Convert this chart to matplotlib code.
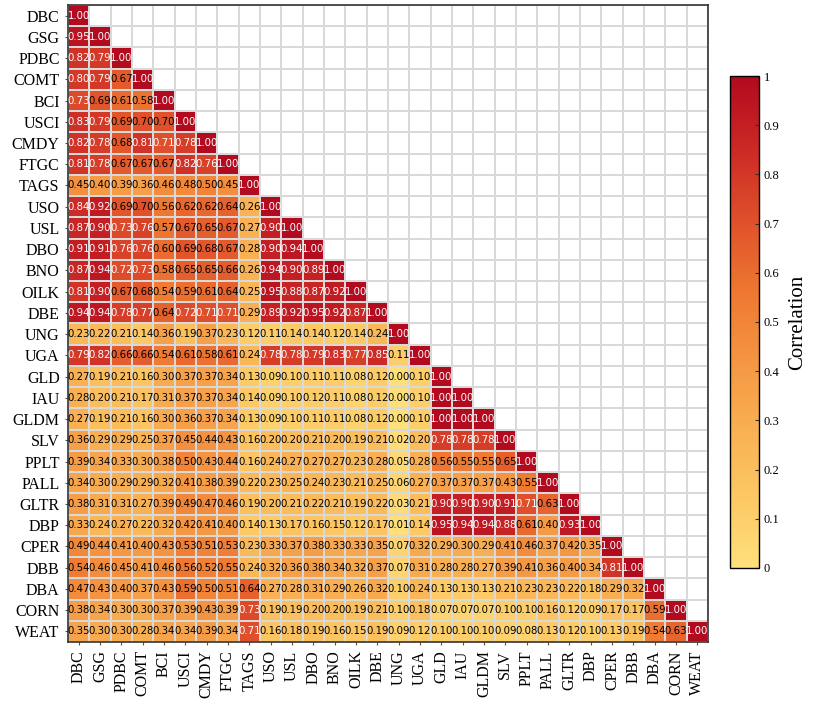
import numpy as np
import matplotlib
matplotlib.use("Agg")
import matplotlib.pyplot as plt
from matplotlib.colors import LinearSegmentedColormap

tickers = ["DBC", "GSG", "PDBC", "COMT", "BCI", "USCI", "CMDY", "FTGC", "TAGS", "USO",
           "USL", "DBO", "BNO", "OILK", "DBE", "UNG", "UGA", "GLD", "IAU", "GLDM",
           "SLV", "PPLT", "PALL", "GLTR", "DBP", "CPER", "DBB", "DBA", "CORN", "WEAT"]

rows = [
    [1.00],
    [0.95, 1.00],
    [0.82, 0.79, 1.00],
    [0.80, 0.79, 0.67, 1.00],
    [0.73, 0.69, 0.61, 0.58, 1.00],
    [0.83, 0.79, 0.69, 0.70, 0.70, 1.00],
    [0.82, 0.78, 0.68, 0.81, 0.71, 0.78, 1.00],
    [0.81, 0.78, 0.67, 0.67, 0.67, 0.82, 0.76, 1.00],
    [0.45, 0.40, 0.39, 0.36, 0.46, 0.48, 0.50, 0.45, 1.00],
    [0.84, 0.92, 0.69, 0.70, 0.56, 0.62, 0.62, 0.64, 0.26, 1.00],
    [0.87, 0.90, 0.73, 0.76, 0.57, 0.67, 0.65, 0.67, 0.27, 0.90, 1.00],
    [0.91, 0.91, 0.76, 0.76, 0.60, 0.69, 0.68, 0.67, 0.28, 0.90, 0.94, 1.00],
    [0.87, 0.94, 0.72, 0.73, 0.58, 0.65, 0.65, 0.66, 0.26, 0.94, 0.90, 0.89, 1.00],
    [0.81, 0.90, 0.67, 0.68, 0.54, 0.59, 0.61, 0.64, 0.25, 0.95, 0.88, 0.87, 0.92, 1.00],
    [0.94, 0.94, 0.78, 0.77, 0.64, 0.72, 0.71, 0.71, 0.29, 0.89, 0.92, 0.95, 0.92, 0.87, 1.00],
    [0.23, 0.22, 0.21, 0.14, 0.36, 0.19, 0.37, 0.23, 0.12, 0.11, 0.14, 0.14, 0.12, 0.14, 0.24, 1.00],
    [0.79, 0.82, 0.66, 0.66, 0.54, 0.61, 0.58, 0.61, 0.24, 0.78, 0.78, 0.79, 0.83, 0.77, 0.85, 0.11, 1.00],
    [0.27, 0.19, 0.21, 0.16, 0.30, 0.37, 0.37, 0.34, 0.13, 0.09, 0.10, 0.11, 0.11, 0.08, 0.12, 0.00, 0.10, 1.00],
    [0.28, 0.20, 0.21, 0.17, 0.31, 0.37, 0.37, 0.34, 0.14, 0.09, 0.10, 0.12, 0.11, 0.08, 0.12, 0.00, 0.10, 1.00, 1.00],
    [0.27, 0.19, 0.21, 0.16, 0.30, 0.36, 0.37, 0.34, 0.13, 0.09, 0.10, 0.11, 0.11, 0.08, 0.12, 0.00, 0.10, 1.00, 1.00, 1.00],
    [0.36, 0.29, 0.29, 0.25, 0.37, 0.45, 0.44, 0.43, 0.16, 0.20, 0.20, 0.21, 0.20, 0.19, 0.21, 0.02, 0.20, 0.78, 0.78, 0.78, 1.00],
    [0.39, 0.34, 0.33, 0.30, 0.38, 0.50, 0.43, 0.44, 0.16, 0.24, 0.27, 0.27, 0.27, 0.23, 0.28, 0.05, 0.28, 0.56, 0.55, 0.55, 0.65, 1.00],
    [0.34, 0.30, 0.29, 0.29, 0.32, 0.41, 0.38, 0.39, 0.22, 0.23, 0.25, 0.24, 0.23, 0.21, 0.25, 0.06, 0.27, 0.37, 0.37, 0.37, 0.43, 0.55, 1.00],
    [0.38, 0.31, 0.31, 0.27, 0.39, 0.49, 0.47, 0.46, 0.19, 0.20, 0.21, 0.22, 0.21, 0.19, 0.22, 0.03, 0.21, 0.90, 0.90, 0.90, 0.91, 0.71, 0.63, 1.00],
    [0.33, 0.24, 0.27, 0.22, 0.32, 0.42, 0.41, 0.40, 0.14, 0.13, 0.17, 0.16, 0.15, 0.12, 0.17, 0.01, 0.14, 0.95, 0.94, 0.94, 0.88, 0.61, 0.40, 0.93, 1.00],
    [0.49, 0.44, 0.41, 0.40, 0.43, 0.53, 0.51, 0.53, 0.23, 0.33, 0.37, 0.38, 0.33, 0.33, 0.35, 0.07, 0.32, 0.29, 0.30, 0.29, 0.41, 0.46, 0.37, 0.42, 0.35, 1.00],
    [0.54, 0.46, 0.45, 0.41, 0.46, 0.56, 0.52, 0.55, 0.24, 0.32, 0.36, 0.38, 0.34, 0.32, 0.37, 0.07, 0.31, 0.28, 0.28, 0.27, 0.39, 0.41, 0.36, 0.40, 0.34, 0.81, 1.00],
    [0.47, 0.43, 0.40, 0.37, 0.43, 0.59, 0.50, 0.51, 0.64, 0.27, 0.28, 0.31, 0.29, 0.26, 0.32, 0.10, 0.24, 0.13, 0.13, 0.13, 0.21, 0.23, 0.23, 0.22, 0.18, 0.29, 0.32, 1.00],
    [0.38, 0.34, 0.30, 0.30, 0.37, 0.39, 0.43, 0.39, 0.73, 0.19, 0.19, 0.20, 0.20, 0.19, 0.21, 0.10, 0.18, 0.07, 0.07, 0.07, 0.10, 0.10, 0.16, 0.12, 0.09, 0.17, 0.17, 0.59, 1.00],
    [0.35, 0.30, 0.30, 0.28, 0.34, 0.34, 0.39, 0.34, 0.71, 0.16, 0.18, 0.19, 0.16, 0.15, 0.19, 0.09, 0.12, 0.10, 0.10, 0.10, 0.09, 0.08, 0.13, 0.12, 0.10, 0.13, 0.19, 0.54, 0.63, 1.00],
]

n = len(tickers)
mat = np.full((n, n), np.nan)
for i, r in enumerate(rows):
    mat[i, :len(r)] = r

cmap = LinearSegmentedColormap.from_list(
    "corr",
    [(0.0, "#FEE07A"), (0.2, "#FBBE5C"), (0.4, "#F59A45"), (0.55, "#EF7A31"),
     (0.7, "#E0522B"), (0.85, "#CC2A26"), (1.0, "#B20A1F")])

fig = plt.figure(figsize=(8.19, 7.13), dpi=100)
ax = fig.add_axes([0.083, 0.0996, 0.7815, 0.8934])

x = np.arange(n + 1)
y = np.arange(n + 1)
bg = np.where(np.isnan(mat), 0.0, np.nan)
ax.pcolormesh(x, y, np.ma.masked_invalid(bg), cmap=LinearSegmentedColormap.from_list("w", ["white", "white"]),
              edgecolors="#d9d9d9", linewidth=1.2)
mesh = ax.pcolormesh(x, y, np.ma.masked_invalid(mat), cmap=cmap, vmin=0, vmax=1,
                     edgecolors="#d9d9d9", linewidth=1.2)
ax.set_xlim(0, n)
ax.set_ylim(n, 0)

for i in range(n):
    for j in range(i + 1):
        v = mat[i, j]
        ax.text(j + 0.5, i + 0.5, f"{v:.2f}", ha="center", va="center",
                fontsize=7.3, family=["Liberation Sans Narrow", "DejaVu Sans"],
                color="white" if v >= 0.705 else "black")

ax.set_xticks(np.arange(n) + 0.5)
ax.set_yticks(np.arange(n) + 0.5)
ax.set_xticklabels(tickers, rotation=90, family="Liberation Serif", fontsize=11.5)
ax.set_yticklabels(tickers, family="Liberation Serif", fontsize=11.5)
ax.tick_params(length=2.5, width=0.8, color="#555555")
for s in ax.spines.values():
    s.set_linewidth(1.2)
    s.set_color("#333333")

cax = fig.add_axes([0.891, 0.2034, 0.0354, 0.69])
cb = fig.colorbar(mesh, cax=cax, ticks=np.arange(0, 1.01, 0.1))
cb.ax.set_yticklabels(["0", "0.1", "0.2", "0.3", "0.4", "0.5", "0.6", "0.7", "0.8", "0.9", "1"],
                      family="Liberation Serif", fontsize=9)
cb.ax.tick_params(length=3, width=0.8, direction="in", color="#333333")
cb.outline.set_linewidth(1.0)
cb.set_label("Correlation", family="Liberation Serif", fontsize=15, labelpad=6)

fig.savefig("out.png", dpi=100)
